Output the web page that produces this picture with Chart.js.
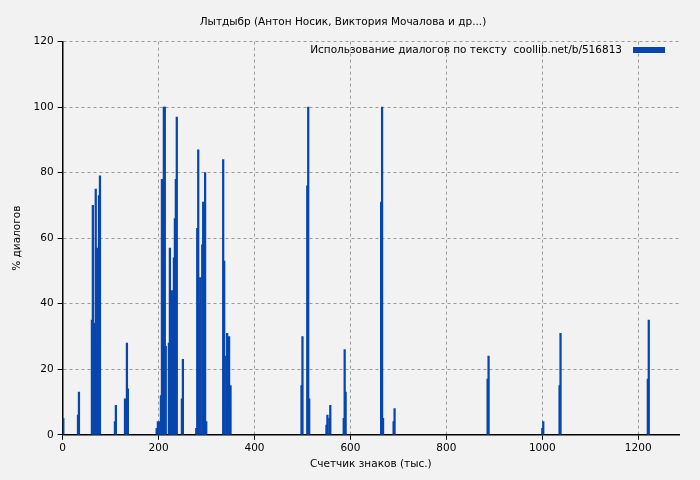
<!DOCTYPE html><html><head><meta charset="utf-8">
<script src="https://cdn.jsdelivr.net/npm/chart.js@4"></script>
<style>html,body{margin:0;background:#f2f2f2}#w{width:700px;height:480px}</style></head><body><div id="w"><canvas id="c"></canvas></div>
<script>
const positions=[1.4,32,34,61,63,65,67,69,71.5,73.6,75.7,77.8,109,111,130,132,134,136,196,198.6,200.7,202.8,204.9,207,209,211,213,215,221.5,223.6,225.7,227.8,230,232,234,236,238,248.6,250.7,278.5,280.6,282.7,284.7,286.8,291,293,295,297,299.4,334.7,336.8,341,343,345,347,350,498,500,510,512,514,550,552,556,558,586,588,590,664,666,668,690,692,886,888,1000,1002,1036,1038,1220,1222];
const values=[5,6,13,35,70,2,34,75,57,28,73,79,4,9,11,6,28,14,2,4,2,4,12,78,47,100,100,27,28,57,26,44,27,54,66,78,97,11,23,2,63,87,40,48,58,71,64,80,4,84,53,24,31,8,30,15,15,30,76,100,11,3,6,5,9,5,26,13,71,100,5,4,8,17,24,2,4,15,31,17,35];
const xTicks=[0,200,400,600,800,1000,1200];
const yTicks=[0,20,40,60,80,100,120];
const title='Лытдыбр (Антон Носик, Виктория Мочалова и др...)';
const legendLabel='Использование диалогов по тексту  coollib.net/b/516813';
const xLabel='Счетчик знаков (тыс.)', yLabel='% диалогов';
const F='"DejaVu Sans", sans-serif';
const legendPlugin={id:'lg',afterDraw(ch){const c=ch.ctx;c.save();c.font='10.5px '+F;c.fillStyle='#000';c.textAlign='right';c.textBaseline='middle';c.fillText(legendLabel,622,50);c.fillStyle='#0746ad';c.fillRect(633,47,32,6);c.restore();}};
new Chart(document.getElementById('c'),{type:'bar',
data:{datasets:[{data:positions.map((x,i)=>({x,y:values[i]})),backgroundColor:'#0746ad',barThickness:1.6,borderWidth:0}]},
options:{animation:false,responsive:true,maintainAspectRatio:false,
layout:{padding:{top:6,right:21,left:7,bottom:5}},
plugins:{legend:{display:false},tooltip:{enabled:false},title:{display:true,text:title,font:{family:F,size:10.5,weight:'normal'},color:'#000',padding:{top:10,bottom:13}}},
scales:{x:{type:'linear',offset:false,min:0,max:1285,afterBuildTicks(s){s.ticks=xTicks.map(v=>({value:v}));},
 ticks:{font:{family:F,size:10.5},color:'#000',maxRotation:0,padding:2,callback:v=>String(v)},
 grid:{offset:false,color:'#999',tickColor:'#000',tickLength:5,drawTicks:true},border:{color:'#000',width:1.5,dash:[3,3]},
 title:{display:true,text:xLabel,font:{family:F,size:10.5},color:'#000',padding:{top:2}}},
y:{min:0,max:120,afterBuildTicks(s){s.ticks=yTicks.map(v=>({value:v}));},
 ticks:{font:{family:F,size:10.5},color:'#000',padding:4},
 grid:{color:'#999',tickColor:'#000',tickLength:5},border:{color:'#000',width:1.5,dash:[3,3]},
 title:{display:true,text:yLabel,font:{family:F,size:10.5},color:'#000',padding:{bottom:6}}}}},
plugins:[legendPlugin]});
</script></body></html>
